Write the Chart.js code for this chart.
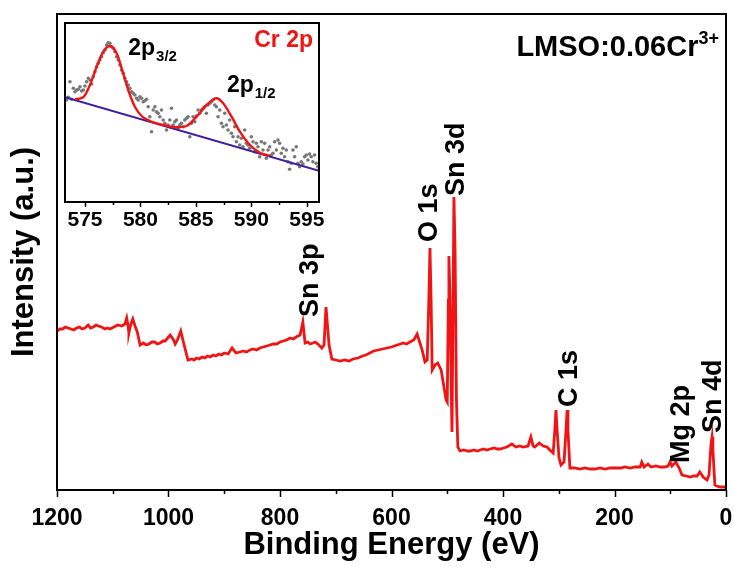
<!DOCTYPE html>
<html>
<head>
<meta charset="utf-8">
<script src="https://cdn.jsdelivr.net/npm/chart.js@4.4.1/dist/chart.umd.min.js"></script>
<style>
  html, body { margin: 0; padding: 0; background: #fff; }
  #wrap { position: relative; width: 734px; height: 571px; }
  #wrap canvas { position: absolute; left: 0; top: 0; }
</style>
</head>
<body>
<div id="wrap">
  <canvas id="surveyChart" width="734" height="571"></canvas>
  <canvas id="crChart" width="734" height="571"></canvas>
</div>
<script>
// Survey spectrum (binding energy in eV, intensity in a.u.)
const surveyEnergy = [1200, 1195, 1190, 1185, 1180, 1175, 1170, 1165, 1160, 1155, 1150, 1144, 1140, 1135, 1130, 1126, 1120, 1114, 1110, 1105, 1098, 1091, 1084, 1078, 1075, 1072.5, 1071, 1068, 1064, 1060, 1056, 1051, 1045, 1040, 1035, 1030, 1025, 1020, 1015, 1010, 1006, 997, 991, 988, 984, 978, 972, 965, 958, 954, 950, 945, 940, 935, 930, 925, 920, 915, 910, 905, 900, 893, 886, 879, 872, 866, 860, 854, 848, 842, 836, 830, 824, 818, 812, 806, 800, 794, 788, 782, 776, 771, 764, 759, 755, 750, 746, 741, 737, 732, 725, 721, 717.5, 712, 707, 700, 692, 684, 676, 669, 660, 652, 646, 639, 632, 624, 616, 608, 600, 590, 584, 579, 573, 567, 560, 554, 545, 540, 536, 533, 531, 529, 527, 522, 517, 511, 508, 502, 500, 498, 497, 495, 492.5, 491.5, 490, 488, 486, 483.5, 481, 477, 470, 464, 459, 452, 446, 441, 435, 429, 423, 416, 410, 405, 399, 393, 384, 377, 370, 364, 355, 350, 346, 343, 335, 328, 321, 316, 310, 307, 305, 303, 299.5, 296, 290.5, 287, 285, 283.5, 280, 271, 262, 253, 244, 235, 226, 217, 208, 199, 190, 181, 172, 163, 154, 151, 147, 140, 134.5, 126, 118, 110, 104, 100.5, 97, 90, 84, 79, 71, 64.5, 58, 52, 47, 41, 34, 30.5, 27, 25, 23.5, 20, 11, 0];
const surveyIntensity = [159, 161, 161, 163, 162, 161, 160, 162, 163, 161, 162, 165, 162, 163, 165, 164, 163, 161, 162, 161, 163, 165, 164, 166, 172, 164, 157, 165, 171, 164, 158, 145, 147, 145, 146, 148, 148, 146, 147, 149, 149, 155, 150, 146, 150, 159, 145, 130, 131, 130, 132, 131, 133, 132, 134, 133, 135, 134, 136, 135, 137, 136, 142, 137, 138, 139, 138, 140, 141, 140, 142, 143, 144, 145, 146, 146, 148, 149, 150, 152, 151, 153, 155, 168, 147, 148, 146, 147, 148, 146, 142, 145, 183, 145, 131, 130, 129, 130, 129, 131, 132, 134, 135, 137, 139, 140, 141, 142, 143, 145, 146, 147, 146, 148, 150, 156, 140, 128, 130, 190, 242, 190, 120, 125, 127, 120, 110, 90, 88, 190, 234, 190, 90, 58, 160, 293, 240, 90, 43, 39, 40, 39, 39, 40, 39, 40, 41, 40, 41, 42, 41, 41, 42, 43, 46, 43, 44, 43, 44, 53, 44, 43, 47, 44, 43, 40, 37, 60, 80, 60, 32, 25, 28, 60, 80, 60, 22, 22, 21, 22, 21, 21, 22, 21, 22, 22, 22, 23, 22, 23, 23, 28, 23, 26, 23, 24, 23, 23, 24, 28, 24, 28, 22, 15, 14, 13, 14, 14, 18, 13, 10, 15, 45, 53, 40, 5, 3, 3];

const surveyTicks = [1200, 1000, 800, 600, 400, 200, 0];
const surveyMinorTicks = [1100, 900, 700, 500, 300, 100];

// peak labels: text, energy of label centre, intensity where the text starts
const peakNames = ["Sn 3p", "O 1s", "Sn 3d", "C 1s", "Mg 2p", "Sn 4d"];
const peakEnergy = [746, 531, 482.5, 280, 79, 23];
const peakLabelAt = [173, 248, 294, 83, 27, 57];

// Cr 2p inset: raw points, fitted envelope and background
const crEnergy = [573.35, 573.5, 573.65, 573.8, 573.95, 574.1, 574.25, 574.4, 574.55, 574.7,
  574.85, 575, 575.15, 575.3, 575.45, 575.6, 575.75, 575.9, 576.05, 576.2,
  576.35, 576.5, 576.65, 576.8, 576.95, 577.1, 577.25, 577.4, 577.55, 577.7,
  577.85, 578, 578.15, 578.3, 578.45, 578.6, 578.75, 578.9, 579.05, 579.2,
  579.35, 579.5, 579.65, 579.8, 579.95, 580.1, 580.25, 580.4, 580.55, 580.7,
  580.85, 581, 581.15, 581.3, 581.45, 581.6, 581.75, 581.9, 582.05, 582.2,
  582.35, 582.5, 582.65, 582.8, 582.95, 583.1, 583.25, 583.4, 583.55, 583.7,
  583.85, 584, 584.15, 584.3, 584.45, 584.6, 584.75, 584.9, 585.05, 585.2,
  585.35, 585.5, 585.65, 585.8, 585.95, 586.1, 586.25, 586.4, 586.55, 586.7,
  586.85, 587, 587.15, 587.3, 587.45, 587.6, 587.75, 587.9, 588.05, 588.2,
  588.35, 588.5, 588.65, 588.8, 588.95, 589.1, 589.25, 589.4, 589.55, 589.7,
  589.85, 590, 590.15, 590.3, 590.45, 590.6, 590.75, 590.9, 591.05, 591.2,
  591.35, 591.5, 591.65, 591.8, 591.95, 592.1, 592.25, 592.4, 592.55, 592.7,
  592.85, 593, 593.15, 593.3, 593.45, 593.6, 593.75, 593.9, 594.05, 594.2,
  594.35, 594.5, 594.65, 594.8, 594.95, 595.1, 595.25, 595.4, 595.55, 595.7,
  595.85, 596];
const crCounts = [102, 104.7, 120.3, 102.7, 113.7, 110.3, 112, 112.7, 115.3, 111,
  112, 116, 120.3, 123.7, 122, 118, 125.3, 130.3, 135.3, 138.7,
  142, 145.3, 149.3, 152, 157, 159.3, 158.7, 155.3, 153.7, 150.3,
  145.3, 142, 137, 132, 128.7, 123.7, 120.3, 117, 113.7, 110.3,
  108.7, 107, 103.7, 102, 105.3, 103.7, 100.3, 101.3, 102.7, 95.3,
  85.3, 70.3, 92, 95.3, 90.3, 88.7, 85.3, 92, 82, 78.7,
  72, 77, 82, 93.7, 77, 80.3, 82, 73.7, 77, 78.7,
  75.3, 82, 83.7, 85.3, 65.3, 78.7, 85.3, 80.3, 86, 92,
  88.7, 92, 93.7, 95.3, 88.7, 97, 98.7, 100.3, 102, 97,
  95.3, 85.3, 92, 78.7, 75.3, 88.7, 77, 72, 82, 68.7,
  65.3, 75.3, 60.3, 65.3, 57, 63.7, 55.3, 72, 58.7, 57,
  53.7, 65.3, 60.3, 50.3, 58.7, 55.3, 45.3, 60.3, 52, 58.7,
  43.7, 52, 55.3, 47, 48.7, 60.3, 52, 62, 58.7, 48.7,
  53.7, 45.3, 52, 40.3, 32.7, 38.7, 52, 45.3, 55.3, 38.7,
  35.3, 40.3, 38, 45.3, 47, 42, 48, 45.3, 40.3, 47,
  38.7, 35.3];

const fitEnergy = [574.1, 574.85, 575.45, 576.05, 576.65, 577.25, 577.86, 578.31, 578.9, 579.5, 580.1, 580.86, 582.06, 583.26, 584.16, 585.06, 585.97, 586.87, 587.46, 588.22, 588.97, 589.87, 590.77, 591.67];
const fitCounts = [102.7, 104.7, 117, 135.3, 150.3, 156, 148.7, 133.7, 112, 95.3, 86, 81, 77, 74.7, 76, 85.3, 97, 103.7, 98.7, 85.3, 70.3, 57, 49.3, 46.3];

const baseEnergy = [573.2, 596.1];
const baseCounts = [104.7, 31.3];

const crTicks = [575, 580, 585, 590, 595];
const crMinorTicks = [577.5, 582.5, 587.5, 592.5];

const FONT = "'Liberation Sans', Arial, sans-serif";

function toPoints(xs, ys) {
  return xs.map((x, i) => ({ x: x, y: ys[i] }));
}

// frame + outward ticks, shared by both charts
function drawFrameAndTicks(chart, major, minor, majorLen, minorLen) {
  const { ctx, chartArea } = chart;
  const x = chart.scales.x;
  ctx.save();
  ctx.strokeStyle = "#000";
  ctx.lineWidth = 2;
  ctx.strokeRect(chartArea.left, chartArea.top, chartArea.right - chartArea.left, chartArea.bottom - chartArea.top);
  ctx.lineWidth = 1.5;
  ctx.beginPath();
  major.forEach(v => {
    const px = Math.round(x.getPixelForValue(v)) + 0.5;
    ctx.moveTo(px, chartArea.bottom);
    ctx.lineTo(px, chartArea.bottom + majorLen);
  });
  minor.forEach(v => {
    const px = Math.round(x.getPixelForValue(v)) + 0.5;
    ctx.moveTo(px, chartArea.bottom);
    ctx.lineTo(px, chartArea.bottom + minorLen);
  });
  ctx.stroke();
  ctx.restore();
}

// keep the plot box where it is in the figure
function noLabelPadding(s) {
  s.paddingLeft = 0;
  s.paddingRight = 0;
}

const surveyDecor = {
  id: "surveyDecor",
  afterDraw(chart) {
    drawFrameAndTicks(chart, surveyTicks, surveyMinorTicks, 7, 4);
    const { ctx, chartArea } = chart;
    const x = chart.scales.x, y = chart.scales.y;
    ctx.save();
    ctx.fillStyle = "#000";
    ctx.font = "bold 27px " + FONT;
    ctx.textAlign = "left";
    ctx.textBaseline = "middle";
    peakNames.forEach((name, i) => {
      ctx.save();
      ctx.translate(x.getPixelForValue(peakEnergy[i]), y.getPixelForValue(peakLabelAt[i]));
      ctx.rotate(-Math.PI / 2);
      ctx.fillText(name, 0, 0);
      ctx.restore();
    });
    // sample name with superscript
    const main = "LMSO:0.06Cr", sup = "3+";
    ctx.textBaseline = "alphabetic";
    ctx.font = "bold 18px " + FONT;
    const wSup = ctx.measureText(sup).width;
    ctx.font = "bold 29px " + FONT;
    const wMain = ctx.measureText(main).width;
    const right = chartArea.right - 7;
    ctx.fillText(main, right - wSup - wMain, 56);
    ctx.font = "bold 18px " + FONT;
    ctx.fillText(sup, right - wSup, 44);
    ctx.restore();
  }
};

new Chart(document.getElementById("surveyChart"), {
  type: "line",
  data: {
    datasets: [{
      data: toPoints(surveyEnergy, surveyIntensity),
      borderColor: "#f01414",
      borderWidth: 2.8,
      pointRadius: 0,
      tension: 0,
      fill: false
    }]
  },
  options: {
    responsive: false,
    animation: false,
    events: [],
    layout: { padding: { top: 14, right: 8, left: 0, bottom: 0 } },
    plugins: { legend: { display: false }, tooltip: { enabled: false } },
    scales: {
      x: {
        type: "linear",
        reverse: true,
        min: 0,
        max: 1200,
        grid: { display: false, drawTicks: false },
        border: { display: false },
        afterBuildTicks: s => { s.ticks = surveyTicks.map(v => ({ value: v })); },
        afterFit: s => { s.height = 81; noLabelPadding(s); },
        ticks: {
          color: "#000",
          padding: 15,
          maxRotation: 0,
          callback: v => String(v),
          font: { family: FONT, size: 23, weight: "bold" }
        },
        title: {
          display: true,
          text: "Binding Energy (eV)",
          color: "#000",
          padding: { top: 0, bottom: 7 },
          font: { family: FONT, size: 31, weight: "bold" }
        }
      },
      y: {
        type: "linear",
        min: 0,
        max: 476,
        grid: { display: false, drawTicks: false },
        border: { display: false },
        ticks: { display: false },
        afterFit: s => { s.width = 57; },
        title: {
          display: true,
          text: "Intensity (a.u.)",
          color: "#000",
          padding: { top: 6, bottom: 0 },
          font: { family: FONT, size: 31, weight: "bold" }
        }
      }
    }
  },
  plugins: [surveyDecor]
});

const crDecor = {
  id: "crDecor",
  beforeDraw(chart) {
    const { ctx, chartArea } = chart;
    ctx.save();
    ctx.fillStyle = "#fff";
    ctx.fillRect(chartArea.left, chartArea.top, chartArea.right - chartArea.left, chartArea.bottom - chartArea.top);
    ctx.restore();
  },
  afterDraw(chart) {
    drawFrameAndTicks(chart, crTicks, crMinorTicks, 5, 3);
    const { ctx } = chart;
    const x = chart.scales.x, y = chart.scales.y;
    ctx.save();
    ctx.textBaseline = "alphabetic";
    ctx.textAlign = "left";
    ctx.fillStyle = "#000";
    const label = (px, py, big, small) => {
      ctx.font = "bold 23px " + FONT;
      ctx.fillText(big, px, py);
      const w = ctx.measureText(big).width;
      ctx.font = "bold 15px " + FONT;
      ctx.fillText(small, px + w + 1, py + 6);
    };
    label(x.getPixelForValue(578.9), y.getPixelForValue(147), "2p", "3/2");
    label(x.getPixelForValue(587.8), y.getPixelForValue(110), "2p", "1/2");
    ctx.fillStyle = "#f01414";
    ctx.font = "bold 23px " + FONT;
    ctx.textAlign = "right";
    ctx.fillText("Cr 2p", chart.chartArea.right - 6, 47);
    ctx.restore();
  }
};

new Chart(document.getElementById("crChart"), {
  type: "scatter",
  data: {
    datasets: [
      {
        type: "line",
        data: toPoints(baseEnergy, baseCounts),
        borderColor: "#3d1f9c",
        borderWidth: 2,
        pointRadius: 0,
        fill: false,
        order: 2
      },
      {
        type: "line",
        data: toPoints(fitEnergy, fitCounts),
        borderColor: "#f01414",
        borderWidth: 2.4,
        pointRadius: 0,
        cubicInterpolationMode: "monotone",
        fill: false,
        order: 1
      },
      {
        data: toPoints(crEnergy, crCounts),
        backgroundColor: "#777",
        borderWidth: 0,
        pointRadius: 1.8,
        order: 3
      }
    ]
  },
  options: {
    responsive: false,
    animation: false,
    events: [],
    layout: { padding: { top: 23, right: 415, left: 65, bottom: 339 } },
    plugins: { legend: { display: false }, tooltip: { enabled: false } },
    scales: {
      x: {
        type: "linear",
        min: 573.2,
        max: 596.1,
        grid: { display: false, drawTicks: false },
        border: { display: false },
        afterBuildTicks: s => { s.ticks = crTicks.map(v => ({ value: v })); },
        afterFit: s => { s.height = 30; noLabelPadding(s); },
        ticks: { color: "#000", padding: 6, maxRotation: 0, font: { family: FONT, size: 21, weight: "bold" } }
      },
      y: {
        type: "linear",
        display: false,
        min: 0,
        max: 179
      }
    }
  },
  plugins: [crDecor]
});
</script>
</body>
</html>
